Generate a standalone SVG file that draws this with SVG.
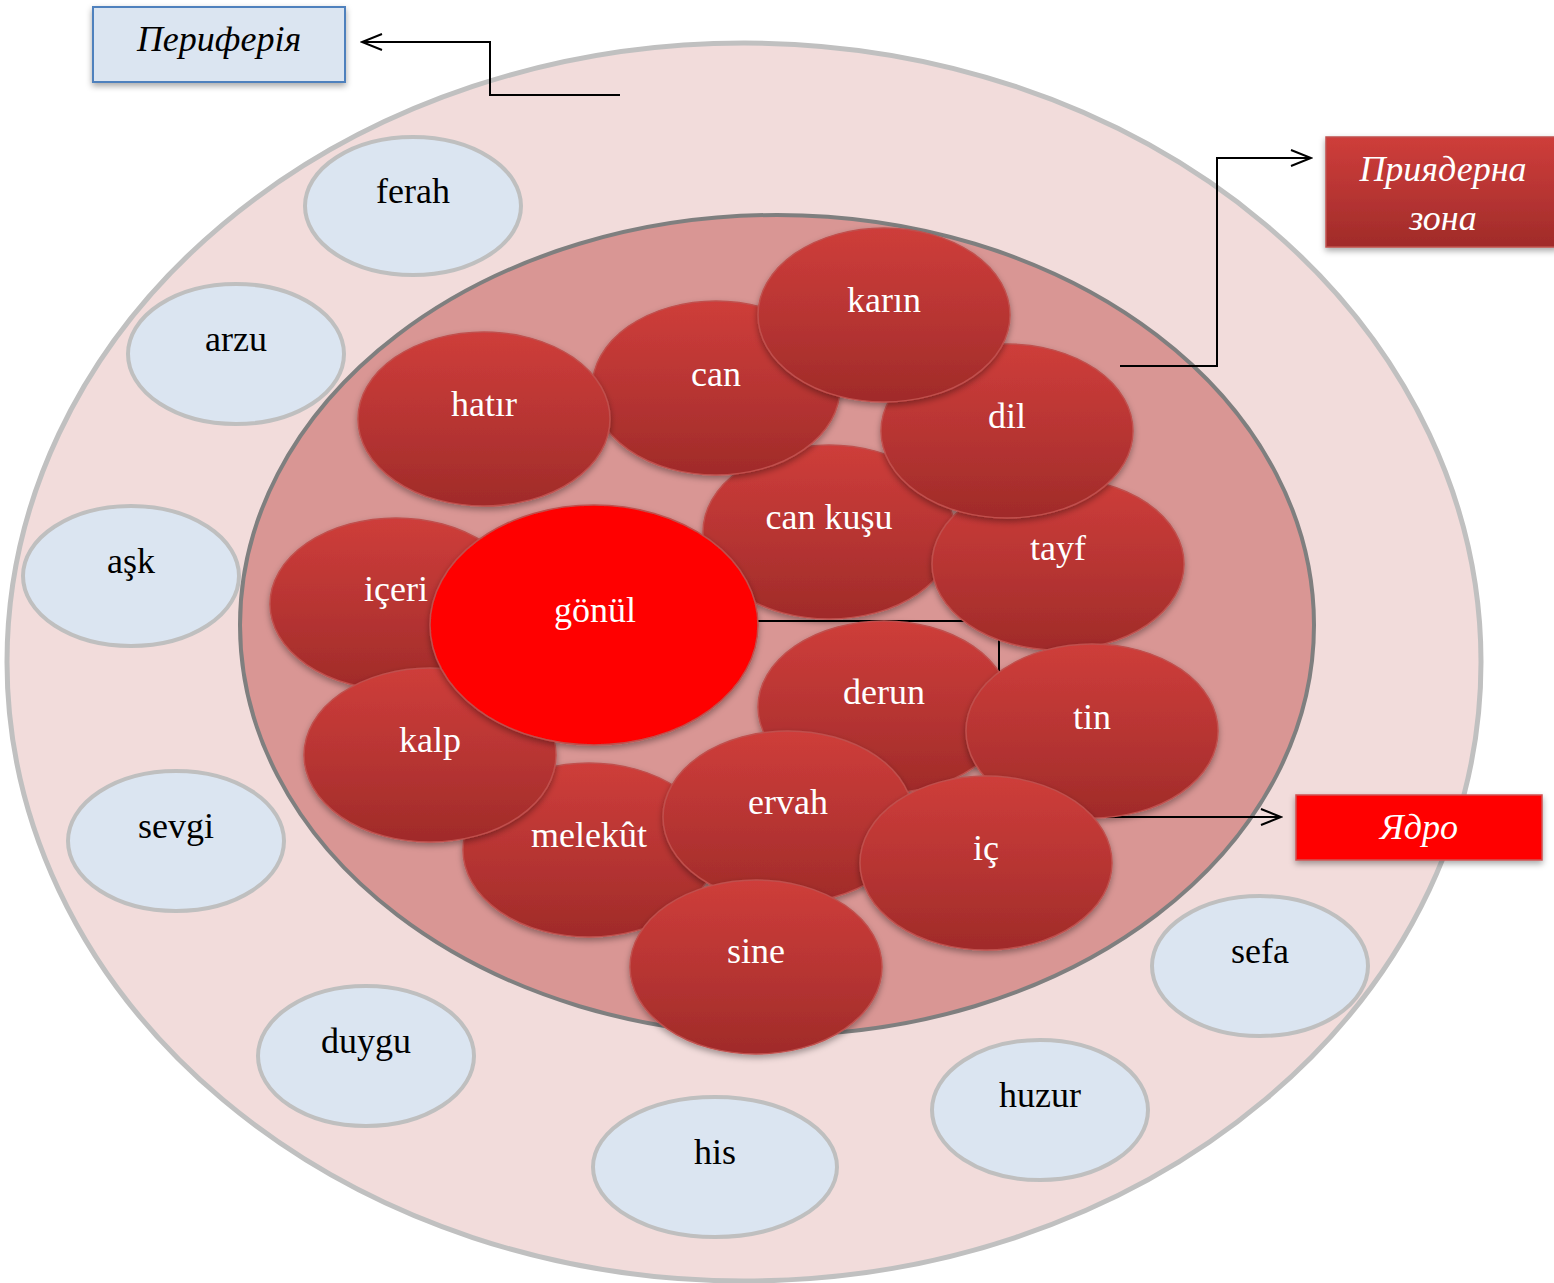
<svg xmlns="http://www.w3.org/2000/svg" width="1554" height="1283" viewBox="0 0 1554 1283">
<defs>
<linearGradient id="rg" x1="0" y1="0" x2="0" y2="1">
<stop offset="0" stop-color="#ce3d3a"/>
<stop offset="0.5" stop-color="#b83533"/>
<stop offset="1" stop-color="#a02b29"/>
</linearGradient>
<filter id="sh" x="-20%" y="-20%" width="140%" height="150%">
<feDropShadow dx="0" dy="3" stdDeviation="3" flood-color="#000" flood-opacity="0.35"/>
</filter>
<marker id="arr" markerWidth="24" markerHeight="20" refX="22" refY="10" orient="auto" markerUnits="userSpaceOnUse">
<polyline points="2,2 22,10 2,18" fill="none" stroke="#000" stroke-width="2"/>
</marker>
<style>
.t{font-family:"Liberation Serif","Times New Roman",serif;font-size:36px;text-anchor:middle}
.bk{fill:#000}
.wt{fill:#fff}
.it{font-style:italic}
.blue{fill:#dbe5f1;stroke:#bfbfbf;stroke-width:4}
.red{fill:url(#rg);stroke:#c0504d;stroke-width:1.5;filter:url(#sh)}
.con{fill:none;stroke:#000;stroke-width:2}
</style>
</defs>
<rect width="1554" height="1283" fill="#fff"/>
<g id="periphery-zone"><ellipse cx="744" cy="662" rx="737" ry="619" fill="#f2dcdb" stroke="#c0c0c0" stroke-width="5"/></g>
<g id="near-core-zone"><ellipse cx="777" cy="625" rx="537" ry="410" fill="#d99694" stroke="#7f7f7f" stroke-width="4"/></g>

<g id="connectors">
<polyline class="con" points="620,95 490,95 490,42 362,42" marker-end="url(#arr)"/>
<polyline class="con" points="1120,366 1217,366 1217,158 1311,158" marker-end="url(#arr)"/>
<polyline class="con" points="758,621 999,621 999,817 1281,817" marker-end="url(#arr)"/>
</g>

<g id="label-periferiya">
<rect x="93" y="7" width="252" height="75" fill="#dbe5f1" stroke="#4f81bd" stroke-width="2" filter="url(#sh)"/>
<text class="t bk it" x="219" y="51">Периферія</text>
</g>
<g id="label-priyaderna">
<rect x="1326" y="137" width="232" height="110" fill="url(#rg)" stroke="#c0504d" stroke-width="1.5" filter="url(#sh)"/>
<text class="t wt it" x="1443" y="181">Приядерна</text>
<text class="t wt it" x="1443" y="230">зона</text>
</g>
<g id="label-yadro">
<rect x="1296" y="795" width="246" height="65" fill="#ff0000" stroke="#d05050" stroke-width="1.5" filter="url(#sh)"/>
<text class="t wt it" x="1419" y="839">Ядро</text>
</g>

<g id="n-ferah"><ellipse class="blue" cx="413" cy="206" rx="108" ry="69"/><text class="t bk" x="413" y="203">ferah</text></g>
<g id="n-arzu"><ellipse class="blue" cx="236" cy="354" rx="108" ry="70"/><text class="t bk" x="236" y="351">arzu</text></g>
<g id="n-ask"><ellipse class="blue" cx="131" cy="576" rx="108" ry="70"/><text class="t bk" x="131" y="573">aşk</text></g>
<g id="n-sevgi"><ellipse class="blue" cx="176" cy="841" rx="108" ry="70"/><text class="t bk" x="176" y="838">sevgi</text></g>
<g id="n-duygu"><ellipse class="blue" cx="366" cy="1056" rx="108" ry="70"/><text class="t bk" x="366" y="1053">duygu</text></g>
<g id="n-his"><ellipse class="blue" cx="715" cy="1167" rx="122" ry="70"/><text class="t bk" x="715" y="1164">his</text></g>
<g id="n-huzur"><ellipse class="blue" cx="1040" cy="1110" rx="108" ry="70"/><text class="t bk" x="1040" y="1107">huzur</text></g>
<g id="n-sefa"><ellipse class="blue" cx="1260" cy="966" rx="108" ry="70"/><text class="t bk" x="1260" y="963">sefa</text></g>

<g id="n-iceri"><ellipse class="red" cx="396" cy="604" rx="126" ry="86"/><text class="t wt" x="396" y="601">içeri</text></g>
<g id="n-cankusu"><ellipse class="red" cx="829" cy="532" rx="126" ry="87"/><text class="t wt" x="829" y="529">can kuşu</text></g>
<g id="n-tayf"><ellipse class="red" cx="1058" cy="564" rx="126" ry="86"/><text class="t wt" x="1058" y="560">tayf</text></g>
<g id="n-dil"><ellipse class="red" cx="1007" cy="431" rx="126" ry="87"/><text class="t wt" x="1007" y="428">dil</text></g>
<g id="n-can"><ellipse class="red" cx="716" cy="388" rx="124" ry="87"/><text class="t wt" x="716" y="386">can</text></g>
<g id="n-hatir"><ellipse class="red" cx="484" cy="419" rx="126" ry="87"/><text class="t wt" x="484" y="416">hatır</text></g>
<g id="n-karin"><ellipse class="red" cx="884" cy="315" rx="126" ry="87"/><text class="t wt" x="884" y="312">karın</text></g>
<g id="n-derun"><ellipse class="red" cx="884" cy="707" rx="126" ry="86"/><text class="t wt" x="884" y="704">derun</text></g>
<g id="n-tin"><ellipse class="red" cx="1092" cy="731" rx="126" ry="87"/><text class="t wt" x="1092" y="729">tin</text></g>
<g id="n-melekut"><ellipse class="red" cx="589" cy="850" rx="126" ry="87"/><text class="t wt" x="589" y="847">melekût</text></g>
<g id="n-kalp"><ellipse class="red" cx="430" cy="755" rx="126" ry="87"/><text class="t wt" x="430" y="752">kalp</text></g>
<g id="n-gonul"><ellipse cx="594" cy="625" rx="164" ry="120" fill="#ff0000" stroke="#c0504d" stroke-width="1.5" filter="url(#sh)"/><text class="t wt" x="595" y="622">gönül</text></g>
<g id="n-ervah"><ellipse class="red" cx="788" cy="817" rx="125" ry="86"/><text class="t wt" x="788" y="814">ervah</text></g>
<g id="n-ic"><ellipse class="red" cx="986" cy="863" rx="126" ry="87"/><text class="t wt" x="986" y="860">iç</text></g>
<g id="n-sine"><ellipse class="red" cx="756" cy="967" rx="126" ry="87"/><text class="t wt" x="756" y="963">sine</text></g>
</svg>
